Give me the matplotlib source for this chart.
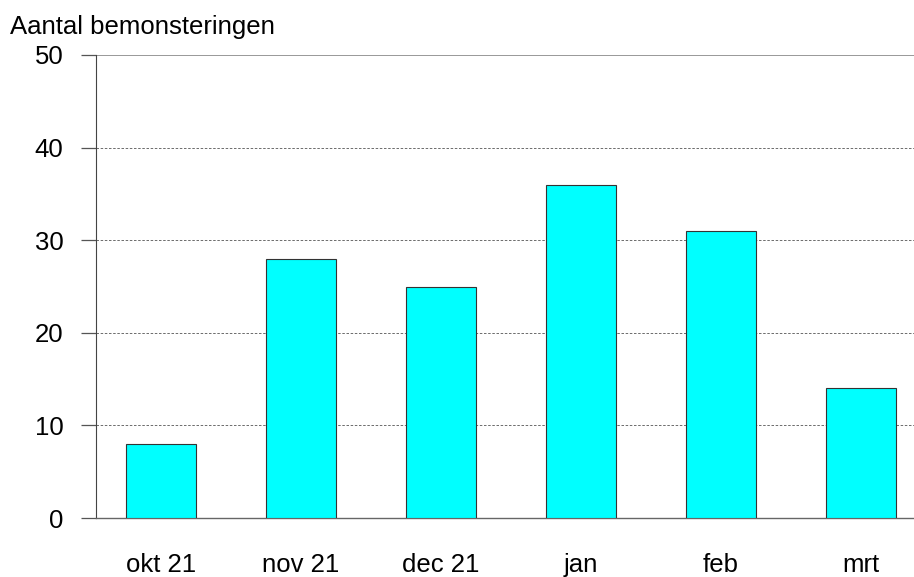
import matplotlib
matplotlib.use("Agg")
from matplotlib import pyplot
import numpy

# maanden en aantallen
maanden = ["okt 21", "nov 21", "dec 21", "jan", "feb", "mrt"]
aantallen = [8, 28, 25, 36, 31, 14]
y_ticks = [0, 10, 20, 30, 40, 50]

pyplot.rcParams['font.family'] = ['Liberation Sans', 'DejaVu Sans']

fig = pyplot.figure(figsize=(9.14, 5.77), dpi=100)
ax = fig.add_axes([95.5 / 914, 59 / 577, 1 - 95.5 / 914, 463 / 577])

x = numpy.arange(len(maanden))
ax.bar(x, aantallen, width=0.5, color='#00ffff', edgecolor='#333333', linewidth=0.8, zorder=3)

ax.set_xlim(-0.468, 5.38)
ax.set_ylim(0, 50)

# rasterlijnen
for t in y_ticks[1:-1]:
    ax.axhline(t, color='#555555', linestyle=(0, (3, 2)), linewidth=0.6, zorder=1)
ax.axhline(50, color='#888888', linewidth=1.2, zorder=1)

ax.spines['top'].set_visible(False)
ax.spines['right'].set_visible(False)
ax.spines['left'].set_color('#444444')
ax.spines['bottom'].set_color('#666666')
ax.spines['bottom'].set_linewidth(1.0)

ax.set_yticks(y_ticks)
ax.set_xticks(x)
ax.set_xticklabels(maanden)
ax.tick_params(axis='y', which='major', labelsize=18.5, length=11, width=0.9, color='#555555', pad=12)
ax.tick_params(axis='x', which='major', labelsize=18.5, length=0, pad=25)

fig.text(10 / 914, 1 - 27 / 577, "Aantal bemonsteringen", fontsize=18.5, va='center', ha='left')

fig.savefig('out.png')
